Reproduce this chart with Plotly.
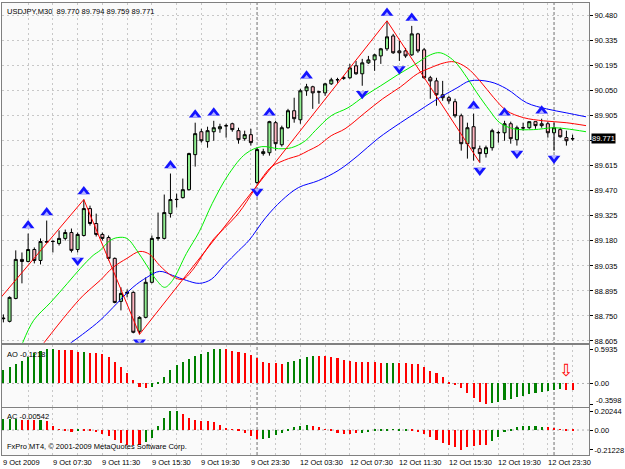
import plotly.graph_objects as go

# ---------------- data ----------------
bars = list(range(93))
opens = [88.733, 88.718, 88.850, 89.075, 89.063, 89.132, 89.069, 89.178, 89.178, 89.167,
         89.196, 89.230, 89.132, 89.213, 89.368, 89.282, 89.219, 89.201, 89.081, 88.833,
         88.879, 88.885, 88.661, 88.741, 88.943, 89.196, 89.196, 89.339, 89.420, 89.431,
         89.477, 89.679, 89.811, 89.754, 89.811, 89.828, 89.846, 89.857, 89.817, 89.771,
         89.794, 89.518, 89.685, 89.690, 89.863, 89.736, 89.834, 89.932, 89.880, 90.047,
         90.070, 90.041, 90.035, 90.087, 90.110, 90.119, 90.122, 90.191, 90.145, 90.208,
         90.225, 90.248, 90.289, 90.363, 90.277, 90.277, 90.254, 90.375, 90.283, 90.122,
         90.104, 90.024, 90.007, 89.984, 89.903, 89.742, 89.840, 89.713, 89.685, 89.719,
         89.805, 89.805, 89.857, 89.765, 89.834, 89.834, 89.869, 89.857, 89.857, 89.805,
         89.823, 89.777, 89.770]
highs = [88.758, 88.862, 89.127, 89.115, 89.224, 89.144, 89.196, 89.299, 89.184, 89.242,
         89.247, 89.253, 89.230, 89.420, 89.385, 89.339, 89.230, 89.213, 89.086, 88.914,
         88.902, 88.891, 88.747, 88.971, 89.213, 89.345, 89.449, 89.570, 89.454, 89.541,
         89.690, 89.863, 89.828, 89.840, 89.874, 89.857, 89.857, 89.863, 89.834, 89.817,
         89.828, 89.719, 89.713, 89.874, 89.874, 89.846, 89.943, 90.007, 90.058, 90.087,
         90.076, 90.047, 90.093, 90.122, 90.122, 90.133, 90.202, 90.219, 90.231, 90.248,
         90.260, 90.294, 90.450, 90.375, 90.335, 90.294, 90.421, 90.381, 90.294, 90.133,
         90.122, 90.104, 90.018, 90.001, 89.915, 89.863, 89.915, 89.731, 89.731, 89.828,
         89.817, 89.874, 89.869, 89.846, 89.863, 89.869, 89.869, 89.886, 89.869, 89.863,
         89.834, 89.817, 89.794]
lows = [88.712, 88.712, 88.845, 88.937, 89.058, 89.052, 89.046, 89.173, 89.115, 89.155,
        89.184, 89.115, 89.115, 89.207, 89.270, 89.207, 89.184, 89.069, 88.822, 88.781,
        88.856, 88.649, 88.643, 88.735, 88.937, 89.184, 89.190, 89.316, 89.374, 89.426,
        89.472, 89.610, 89.748, 89.719, 89.759, 89.805, 89.777, 89.811, 89.742, 89.759,
        89.731, 89.512, 89.673, 89.673, 89.702, 89.725, 89.828, 89.863, 89.857, 90.018,
        89.943, 89.972, 90.018, 90.081, 90.093, 90.110, 90.116, 90.139, 90.076, 90.202,
        90.162, 90.202, 90.277, 90.260, 90.219, 90.237, 90.248, 90.266, 90.116, 90.001,
        89.961, 89.989, 89.972, 89.892, 89.702, 89.656, 89.644, 89.633, 89.662, 89.702,
        89.748, 89.759, 89.742, 89.731, 89.817, 89.828, 89.828, 89.834, 89.777, 89.702,
        89.777, 89.731, 89.759]
closes = [88.736, 88.856, 89.075, 89.063, 89.132, 89.069, 89.178, 89.175, 89.179, 89.196,
          89.230, 89.127, 89.219, 89.368, 89.282, 89.219, 89.196, 89.081, 88.827, 88.879,
          88.885, 88.655, 88.741, 88.943, 89.196, 89.201, 89.345, 89.420, 89.421, 89.477,
          89.685, 89.800, 89.759, 89.817, 89.834, 89.840, 89.845, 89.823, 89.765, 89.794,
          89.748, 89.708, 89.696, 89.869, 89.742, 89.834, 89.932, 89.886, 90.047, 90.070,
          90.035, 90.040, 90.087, 90.110, 90.111, 90.122, 90.179, 90.145, 90.208, 90.225,
          90.254, 90.289, 90.358, 90.266, 90.266, 90.248, 90.375, 90.277, 90.122, 90.104,
          90.024, 90.007, 89.989, 89.903, 89.742, 89.834, 89.713, 89.685, 89.719, 89.817,
          89.806, 89.857, 89.771, 89.834, 89.833, 89.869, 89.846, 89.846, 89.805, 89.834,
          89.782, 89.759, 89.771]

# Alligator lines (bar position, price)
lips_x = [3.09, 4.9, 7.63, 10.35, 12.44, 14.5, 15.64, 17.24, 18.5, 19.97, 21.57, 23.17, 24.78,
          26.06, 27.34, 29.58, 31.67, 33.75, 36.47, 39.2, 41.76, 44.49, 46.57, 48.8, 50.4,
          52.98, 55.7, 58.4, 60.99, 63.72, 66.44, 69.0, 70.6, 72.85, 74.94, 76.54, 78.62,
          80.22, 82.47, 85.67, 88.88, 90.96, 94.17]
lips_y = [88.592, 88.724, 88.827, 88.937, 89.023, 89.098, 89.127, 89.184, 89.201, 89.196,
          89.127, 89.040, 88.954, 88.914, 88.954, 89.109, 89.236, 89.397, 89.569, 89.685,
          89.725, 89.713, 89.719, 89.759, 89.817, 89.903, 89.949, 90.018, 90.076, 90.139,
          90.197, 90.254, 90.266, 90.219, 90.122, 90.035, 89.932, 89.863, 89.828, 89.823,
          89.834, 89.828, 89.811]
teeth_x = [6.51, 10.35, 12.92, 15.64, 17.72, 19.97, 22.05, 23.65, 25.26, 27.34, 28.94, 30.54,
           32.47, 34.07, 35.67, 38.08, 40.48, 42.08, 43.37, 46.09, 47.69, 49.29, 50.9, 52.98,
           55.22, 58.43, 61.31, 64.2, 66.92, 69.0, 71.25, 72.85, 74.94, 77.02, 79.26, 81.35,
           84.07, 87.28, 90.96, 94.17]
teeth_y = [88.592, 88.764, 88.868, 88.954, 89.029, 89.081, 89.121, 89.104, 89.040, 88.977,
           88.960, 89.012, 89.115, 89.196, 89.253, 89.345, 89.472, 89.558, 89.610, 89.656,
           89.673, 89.702, 89.731, 89.788, 89.828, 89.920, 90.001, 90.070, 90.145, 90.179,
           90.208, 90.214, 90.179, 90.104, 90.007, 89.932, 89.892, 89.874, 89.863, 89.846]
jaw_x = [10.83, 13.24, 15.64, 18.37, 20.93, 23.17, 25.26, 27.34, 29.58, 31.67, 33.59, 35.67,
         38.08, 39.68, 42.4, 44.97, 47.69, 50.9, 54.1, 57.3, 60.51, 64.2, 66.92, 69.64, 73.33,
         75.42, 78.62, 81.35, 84.56, 87.76, 90.96, 94.17]
jaw_y = [88.592, 88.655, 88.724, 88.822, 88.914, 88.971, 89.006, 88.983, 88.954, 88.937,
         88.960, 89.040, 89.127, 89.184, 89.316, 89.414, 89.489, 89.529, 89.587, 89.673,
         89.771, 89.863, 89.926, 89.989, 90.064, 90.104, 90.099, 90.058, 89.978, 89.943,
         89.920, 89.897]

# ZigZag pivots
zz_x = [-3, 13, 22, 62, 77]
zz_y = [88.746, 89.420, 88.643, 90.450, 89.633]

# Fractals
up_fractals = [4, 7, 13, 27, 31, 34, 43, 49, 62, 66, 76, 81, 87]
down_fractals = [12, 22, 41, 58, 64, 77, 83, 89]

# Awesome Oscillator
ao_vals = [0.233, 0.291, 0.337, 0.396, 0.465, 0.524, 0.564, 0.593, 0.5935, 0.582,
           0.580, 0.578, 0.541, 0.553, 0.535, 0.530, 0.512, 0.465, 0.378, 0.291,
           0.175, 0.058, -0.058, -0.087, -0.058, 0.004, 0.105, 0.233, 0.320, 0.378,
           0.419, 0.477, 0.512, 0.553, 0.593, 0.5935, 0.593, 0.570, 0.553, 0.524,
           0.494, 0.436, 0.378, 0.361, 0.349, 0.338, 0.378, 0.396, 0.419, 0.454,
           0.483, 0.480, 0.477, 0.465, 0.436, 0.407, 0.396, 0.378, 0.366, 0.366,
           0.364, 0.349, 0.352, 0.360, 0.349, 0.346, 0.343, 0.337, 0.291, 0.221,
           0.175, 0.105, 0.029, -0.029, -0.087, -0.163, -0.250, -0.320, -0.3598, -0.345,
           -0.325, -0.300, -0.272, -0.245, -0.220, -0.197, -0.175, -0.155, -0.135, -0.115,
           -0.100, -0.110, -0.1218]
ao_colors = ['g'] * 9 + ['r'] * 4 + ['g'] + ['r'] * 10 + ['g'] * 12 + ['r'] * 10 + ['g'] * 5 \
            + ['r'] * 11 + ['g'] * 2 + ['r'] * 15 + ['g'] * 12 + ['r'] * 2
# Accelerator Oscillator
ac_vals = [0.117, 0.118, 0.118, 0.107, 0.105, 0.104, 0.106, 0.092, 0.035, 0.007,
           -0.004, -0.020, -0.012, -0.015, -0.018, -0.025, -0.045, -0.070, -0.110, -0.140,
           -0.160, -0.165, -0.165, -0.130, -0.090, 0.035, 0.125, 0.195, 0.2024, 0.170,
           0.125, 0.107, 0.096, 0.090, 0.082, 0.053, 0.018, 0.005, -0.018, -0.035,
           -0.070, -0.100, -0.100, -0.088, -0.060, -0.040, -0.005, 0.025, 0.040, 0.050,
           0.042, 0.028, 0.005, -0.018, -0.035, -0.050, -0.045, -0.035, -0.035, -0.025,
           -0.018, -0.005, -0.004, -0.003, -0.005, -0.006, -0.012, -0.025, -0.050, -0.080,
           -0.105, -0.140, -0.165, -0.190, -0.2123, -0.190, -0.170, -0.160, -0.168, -0.125,
           -0.082, -0.025, -0.004, 0.025, 0.035, 0.042, 0.035, 0.025, 0.025, 0.022,
           0.005, -0.004, -0.00542]
ac_colors = ['g'] * 3 + ['r'] * 3 + ['g'] + ['r'] * 5 + ['g'] + ['r'] * 10 + ['g'] * 6 \
            + ['r'] * 13 + ['g'] * 8 + ['r'] * 8 + ['g'] * 8 + ['r'] * 13 + ['g'] * 9 + ['r'] * 7

# axis ticks
price_ticks = [88.605, 88.7492, 88.8935, 89.0377, 89.1819, 89.3262, 89.4704, 89.6146,
               89.7588, 89.9031, 90.0473, 90.1915, 90.3358, 90.480]
price_labels = ["88.605", "88.750", "88.895", "89.035", "89.180", "89.325", "89.470",
                "89.615", "", "89.905", "90.050", "90.195", "90.335", "90.480"]
time_bars = [0, 8, 16, 24, 32, 40, 48, 56, 64, 72, 80, 88]
time_labels = ["9 Oct 2009", "9 Oct 07:30", "9 Oct 11:30", "9 Oct 15:30", "9 Oct 19:30",
               "9 Oct 23:30", "12 Oct 03:30", "12 Oct 07:30", "12 Oct 11:30",
               "12 Oct 15:30", "12 Oct 19:30", "12 Oct 23:30"]
grid_bars = list(range(4, 93, 4))
day_starts = [41, 89]
last_price = 89.771
ao_ticks, ao_labels = [0.5935, 0.0, -0.3598], ["0.5935", "0.00", "-0.3598"]
ac_ticks, ac_labels = [0.20244, 0.0, -0.21228], ["0.20244", "0.00", "-0.21228"]

# ---------------- figure ----------------
FONT = "Liberation Sans"
FS = 7.5
GRID = "#c8c8c8"
BORDER = "#808080"
BG = '#fafafa'
cmap = {'g': '#008000', 'r': '#ff0000'}

fig = go.Figure()

fig.add_trace(go.Candlestick(
    x=bars, open=opens, high=highs, low=lows, close=closes,
    increasing=dict(fillcolor='#90ee90', line=dict(color='black', width=1)),
    decreasing=dict(fillcolor='#ffb6c1', line=dict(color='black', width=1)),
    whiskerwidth=0, xaxis='x', yaxis='y', hoverinfo='skip'))

for xs, ys, col in [(jaw_x, jaw_y, '#0000ff'), (teeth_x, teeth_y, '#ff0000'),
                    (lips_x, lips_y, '#00ee00')]:
    fig.add_trace(go.Scatter(x=xs, y=ys, mode='lines', line=dict(color=col, width=1, shape='spline'),
                             xaxis='x', yaxis='y', hoverinfo='skip'))

fig.add_trace(go.Scatter(x=zz_x, y=zz_y, mode='lines', line=dict(color='#ff0000', width=1),
                         xaxis='x', yaxis='y', hoverinfo='skip'))

# fractal arrows: blue triangle with a light notch in its base (MT4 style)
off = 0.046      # gap between bar extreme and arrow centre (price units, ~8 px)
notch = 0.0086   # notch centre offset from arrow centre (~1.5 px)
up_y = [highs[i] + off for i in up_fractals]
dn_y = [lows[i] - off for i in down_fractals]
fig.add_trace(go.Scatter(x=up_fractals, y=up_y, mode='markers',
                         marker=dict(symbol='triangle-up', size=11, color='#1414ff', line_width=0),
                         xaxis='x', yaxis='y', hoverinfo='skip'))
fig.add_trace(go.Scatter(x=up_fractals, y=[v - notch for v in up_y], mode='markers',
                         marker=dict(symbol='triangle-up', size=5, color='#b4b4ff', line_width=0),
                         xaxis='x', yaxis='y', hoverinfo='skip'))
fig.add_trace(go.Scatter(x=down_fractals, y=dn_y, mode='markers',
                         marker=dict(symbol='triangle-down', size=11, color='#1414ff', line_width=0),
                         xaxis='x', yaxis='y', hoverinfo='skip'))
fig.add_trace(go.Scatter(x=down_fractals, y=[v + notch for v in dn_y], mode='markers',
                         marker=dict(symbol='triangle-down', size=5, color='#b4b4ff', line_width=0),
                         xaxis='x', yaxis='y', hoverinfo='skip'))

fig.add_trace(go.Bar(x=bars, y=ao_vals, marker=dict(color=[cmap[c] for c in ao_colors], line_width=0),
                     width=0.34, xaxis='x2', yaxis='y2', hoverinfo='skip'))
fig.add_trace(go.Bar(x=bars, y=ac_vals, marker=dict(color=[cmap[c] for c in ac_colors], line_width=0),
                     width=0.34, xaxis='x3', yaxis='y3', hoverinfo='skip'))

xr = [-0.224, 94.65]
xcommon = dict(range=xr, showticklabels=False, tickvals=grid_bars, showgrid=True,
               gridcolor=GRID, griddash='2px,3px', gridwidth=1, zeroline=False,
               showline=True, mirror=True, linecolor=BORDER, linewidth=1, ticks='',
               fixedrange=True)
ycommon = dict(side='right', showline=True, mirror=True, linecolor=BORDER, linewidth=1,
               zeroline=False, ticks='outside', ticklen=3, tickcolor='black',
               tickfont=dict(family=FONT, size=FS, color='black'), fixedrange=True)

# label text for the lowest AO tick is drawn separately (slightly raised, like MT4)
ao_ticktext = [t if v != ao_ticks[-1] else "" for v, t in zip(ao_ticks, ao_labels)]

fig.update_layout(
    width=625, height=469, margin=dict(l=1, r=32, t=2, b=14),
    paper_bgcolor='white', plot_bgcolor=BG, showlegend=False, bargap=0,
    xaxis=dict(**xcommon, anchor='y', domain=[0, 1], rangeslider=dict(visible=False)),
    xaxis2=dict(**xcommon, anchor='y2', domain=[0, 1], matches='x'),
    xaxis3=dict(**xcommon, anchor='y3', domain=[0, 1], matches='x'),
    yaxis=dict(**ycommon, domain=[0.2483, 1.0], range=[88.5945, 90.553],
               tickvals=price_ticks, ticktext=price_labels, showgrid=True,
               gridcolor=GRID, griddash='2px,3px'),
    yaxis2=dict(**ycommon, domain=[0.1066, 0.2428], range=[-0.408, 0.668],
                tickvals=ao_ticks, ticktext=ao_ticktext, showgrid=False),
    yaxis3=dict(**ycommon, domain=[0.0, 0.1031], range=[-0.266, 0.231],
                tickvals=ac_ticks, ticktext=ac_labels, showgrid=False),
)

shapes = []
for xr_ref, yr_ref in [('x2', 'y2'), ('x3', 'y3')]:
    shapes.append(dict(type='line', xref=xr_ref + ' domain', yref=yr_ref, x0=0, x1=1, y0=0, y1=0,
                       line=dict(color='#b0b0b0', width=1, dash='2px,3px'), layer='below'))
for d in day_starts:
    shapes.append(dict(type='line', xref='x', yref='paper', x0=d, x1=d, y0=0, y1=1,
                       line=dict(color='#707070', width=1, dash='3px,2px'), layer='below'))
fig.update_layout(shapes=shapes)

ann = []
tf = dict(family=FONT, size=FS, color='black')
ann.append(dict(text="USDJPY,M30  89.770 89.794 89.759 89.771", xref='x domain', yref='y domain',
                x=0, y=1, xanchor='left', yanchor='top', xshift=3, yshift=-2, showarrow=False, font=tf))
ann.append(dict(text="AO -0.1218", xref='x2 domain', yref='y2 domain', x=0, y=1, xanchor='left',
                yanchor='top', xshift=3, yshift=-3, showarrow=False, font=tf))
ann.append(dict(text="AC -0.00542", xref='x3 domain', yref='y3 domain', x=0, y=1, xanchor='left',
                yanchor='top', xshift=3, yshift=-2, showarrow=False, font=tf))
ann.append(dict(text="FxPro MT4, © 2001-2009 MetaQuotes Software Corp.", xref='x3 domain',
                yref='y3 domain', x=0, y=0, xanchor='left', yanchor='bottom', xshift=3, yshift=2,
                showarrow=False, font=tf))
ann.append(dict(text=ao_labels[-1], xref='paper', yref='y2', x=1, y=ao_ticks[-1], xanchor='left',
                yanchor='middle', xshift=5, yshift=4, showarrow=False, font=tf))
for b, t in zip(time_bars, time_labels):
    ann.append(dict(text=t, xref='x3', yref='paper', x=b, y=0, xanchor='left', yanchor='top',
                    xshift=-2, yshift=-1, showarrow=False, font=tf))
ann.append(dict(text=f"{last_price:.3f}", xref='paper', yref='y', x=1, y=last_price, xanchor='left',
                yanchor='middle', xshift=2, showarrow=False, bgcolor='black',
                font=dict(family=FONT, size=FS, color='white'), borderpad=0))
ann.append(dict(text="⇩", xref='x2', yref='y2', x=91, y=0.23, showarrow=False,
                font=dict(family="DejaVu Sans", size=17, color='#ff0000')))
fig.update_layout(annotations=ann)

fig.write_html("out.html")
